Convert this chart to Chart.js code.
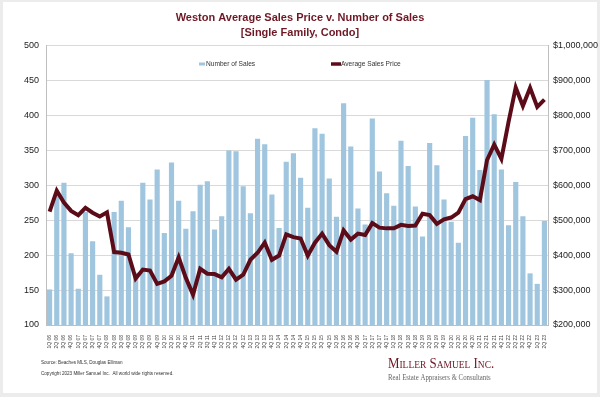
<!DOCTYPE html>
<html>
<head>
<meta charset="utf-8">
<script src="https://cdn.jsdelivr.net/npm/chart.js@4"></script>
<style>
  html, body { margin: 0; padding: 0; background: #ececec; }
  #wrap { width: 600px; height: 397px; }
</style>
</head>
<body>
<div id="wrap"><canvas id="chart" width="600" height="397"></canvas></div>
<script>
const quarters = [
  '1Q 06', '2Q 06', '3Q 06', '4Q 06', '1Q 07', '2Q 07', '3Q 07', '4Q 07',
  '1Q 08', '2Q 08', '3Q 08', '4Q 08', '1Q 09', '2Q 09', '3Q 09', '4Q 09',
  '1Q 10', '2Q 10', '3Q 10', '4Q 10', '1Q 11', '2Q 11', '3Q 11', '4Q 11',
  '1Q 12', '2Q 12', '3Q 12', '4Q 12', '1Q 13', '2Q 13', '3Q 13', '4Q 13',
  '1Q 14', '2Q 14', '3Q 14', '4Q 14', '1Q 15', '2Q 15', '3Q 15', '4Q 15',
  '1Q 16', '2Q 16', '3Q 16', '4Q 16', '1Q 17', '2Q 17', '3Q 17', '4Q 17',
  '1Q 18', '2Q 18', '3Q 18', '4Q 18', '1Q 19', '2Q 19', '3Q 19', '4Q 19',
  '1Q 20', '2Q 20', '3Q 20', '4Q 20', '1Q 21', '2Q 21', '3Q 21', '4Q 21',
  '1Q 22', '2Q 22', '3Q 22', '4Q 22', '1Q 23', '2Q 23'
];

const numberOfSales = [
  151, 287, 304, 203, 152, 262, 220, 172, 141, 262,
  278, 240, 175, 304, 280, 323, 232, 333, 278, 238,
  263, 301, 306, 237, 256, 350, 349, 299, 260, 367,
  359, 287, 239, 334, 346, 311, 268, 382, 374, 310,
  255, 418, 356, 267, 244, 396, 320, 289, 271, 364,
  328, 270, 227, 361, 329, 280, 248, 218, 371, 397,
  322, 451, 402, 323, 243, 305, 256, 174, 159, 249
];

const avgSalesPrice = [
  525000, 585000, 551000, 527000, 515000, 536000, 522000, 511000, 523000, 409000,
  407000, 402000, 333000, 359000, 356000, 318000, 325000, 341000, 394000, 335000,
  287000, 361000, 347000, 346000, 337000, 361000, 330000, 344000, 387000, 407000,
  436000, 387000, 399000, 460000, 452000, 448000, 399000, 436000, 462000, 429000,
  410000, 471000, 445000, 462000, 458000, 492000, 479000, 477000, 477000, 487000,
  484000, 485000, 519000, 515000, 490000, 503000, 508000, 522000, 561000, 569000,
  558000, 673000, 717000, 676000, 782000, 881000, 828000, 880000, 825000, 846000
];

const salesTicks = { min: 100, max: 500, step: 50 };
const priceTicks = { min: 200000, max: 1000000, step: 100000 };

const titleLines = ['Weston Average Sales Price v. Number of Sales', '[Single Family, Condo]'];
const sourceNote = 'Source: Beaches MLS, Douglas Elliman';
const copyrightNote = 'Copyright 2023 Miller Samuel Inc.  All world wide rights reserved.';
const companyName = 'Miller Samuel Inc.';
const companyTag = 'Real Estate Appraisers & Consultants';

const BAR_BLUE = '#9fc6de';
const LINE_RED = '#5c0c18';
const TITLE_RED = '#6e1825';
const SANS = '"Liberation Sans", Arial, sans-serif';
const SERIF = '"Liberation Serif", "DejaVu Serif", serif';

// fond gris + carte blanche
const backgroundPlugin = {
  id: 'cardBackground',
  beforeDraw(chart) {
    const ctx = chart.ctx;
    ctx.save();
    ctx.fillStyle = '#ececec';
    ctx.fillRect(0, 0, chart.width, chart.height);
    ctx.fillStyle = '#ffffff';
    ctx.fillRect(3, 2, chart.width - 6, chart.height - 6);
    ctx.restore();
  }
};

// legende dessinee dans la zone du graphique
const legendPlugin = {
  id: 'insideLegend',
  afterDraw(chart) {
    const ctx = chart.ctx;
    const y = 64;
    const bars = chart.data.datasets[1];
    const line = chart.data.datasets[0];
    ctx.save();
    ctx.font = '6.6px ' + SANS;
    ctx.textBaseline = 'middle';

    ctx.fillStyle = bars.backgroundColor;
    ctx.fillRect(199, y - 1.5, 6, 3);
    ctx.fillStyle = '#333';
    ctx.fillText(bars.label, 206, y);

    ctx.strokeStyle = line.borderColor;
    ctx.lineWidth = 3.5;
    ctx.beginPath();
    ctx.moveTo(331, y);
    ctx.lineTo(341, y);
    ctx.stroke();
    ctx.fillText(line.label, 341, y);
    ctx.restore();
  }
};

// pied de page: source + logo
const footerPlugin = {
  id: 'footer',
  afterDraw(chart) {
    const ctx = chart.ctx;
    ctx.save();
    ctx.fillStyle = '#333';
    ctx.textBaseline = 'middle';
    ctx.font = '4.6px ' + SANS;
    ctx.fillText(sourceNote, 41, 363);
    ctx.fillText(copyrightNote, 41, 374);

    // logo, un peu condense
    ctx.save();
    ctx.translate(388, 368);
    ctx.scale(0.86, 1);
    ctx.fillStyle = TITLE_RED;
    ctx.textBaseline = 'alphabetic';
    ctx.font = 'small-caps 15px ' + SERIF;
    if ('fontVariantCaps' in ctx) ctx.fontVariantCaps = 'small-caps';
    ctx.fillText(companyName, 0, 0);
    ctx.restore();

    ctx.save();
    ctx.translate(388, 378);
    ctx.scale(0.85, 1);
    ctx.fillStyle = '#666';
    ctx.textBaseline = 'middle';
    ctx.font = '8px ' + SERIF;
    ctx.fillText(companyTag, 0, 0);
    ctx.restore();

    ctx.restore();
  }
};

const ctx = document.getElementById('chart');
new Chart(ctx, {
  type: 'bar',
  data: {
    labels: quarters,
    datasets: [
      {
        type: 'line',
        label: 'Average Sales Price',
        data: avgSalesPrice,
        yAxisID: 'y1',
        borderColor: LINE_RED,
        borderWidth: 4,
        pointRadius: 0,
        tension: 0,
        order: 0
      },
      {
        type: 'bar',
        label: 'Number of Sales',
        data: numberOfSales,
        yAxisID: 'y',
        backgroundColor: BAR_BLUE,
        barPercentage: 0.72,
        categoryPercentage: 1,
        order: 1
      }
    ]
  },
  options: {
    responsive: false,
    animation: false,
    layout: { padding: 0 },
    plugins: {
      legend: { display: false },
      tooltip: { enabled: false },
      title: {
        display: true,
        text: titleLines,
        color: TITLE_RED,
        font: { family: SANS, size: 11, weight: 'bold', lineHeight: 1.36 },
        padding: { top: 10.5, bottom: 5.5 }
      }
    },
    scales: {
      x: {
        grid: { display: false },
        border: { color: '#bfbfbf' },
        ticks: {
          autoSkip: false,
          maxRotation: 90,
          minRotation: 90,
          padding: 2,
          color: '#444',
          font: { family: SANS, size: 5 }
        },
        afterFit(scale) { scale.height = 72; }
      },
      y: {
        position: 'left',
        min: salesTicks.min,
        max: salesTicks.max,
        grid: { color: '#d9d9d9', drawTicks: false },
        border: { color: '#bfbfbf' },
        ticks: {
          stepSize: salesTicks.step,
          padding: 7,
          color: '#222',
          font: { family: SANS, size: 9 }
        },
        afterFit(scale) { scale.width = 46; }
      },
      y1: {
        position: 'right',
        min: priceTicks.min,
        max: priceTicks.max,
        grid: { drawOnChartArea: false, drawTicks: false },
        border: { color: '#bfbfbf' },
        ticks: {
          stepSize: priceTicks.step,
          padding: 5,
          color: '#222',
          font: { family: SANS, size: 9 },
          callback: v => '$' + Number(v).toLocaleString('en-US')
        },
        afterFit(scale) { scale.width = 52; }
      }
    }
  },
  plugins: [backgroundPlugin, legendPlugin, footerPlugin]
});
</script>
</body>
</html>
